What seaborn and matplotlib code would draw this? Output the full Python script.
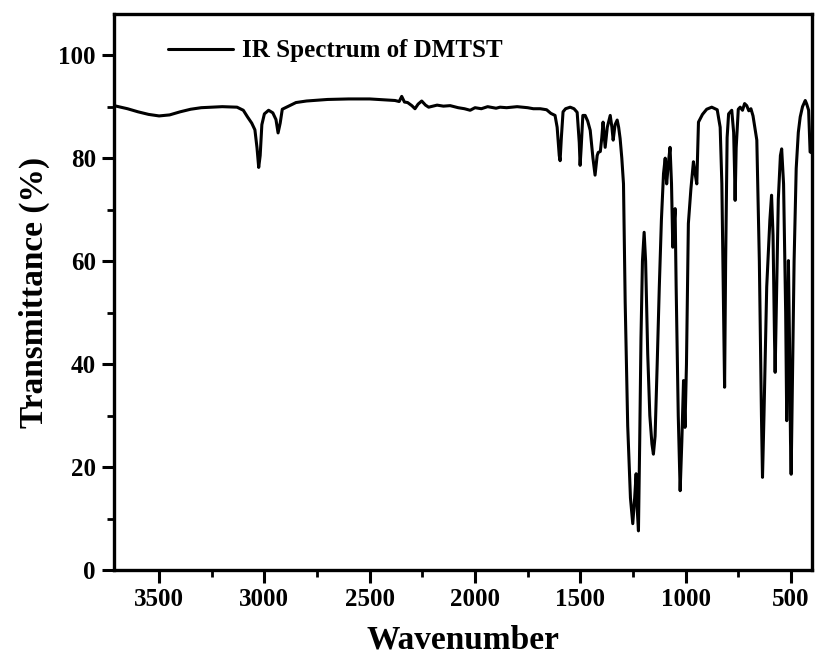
import matplotlib
matplotlib.use("Agg")
import matplotlib.pyplot as plt
import seaborn as sns
import pandas as pd
from matplotlib.ticker import MultipleLocator

wavenumber = [
    3714, 3650, 3600, 3550, 3500, 3450, 3400, 3350, 3300, 3200, 3130, 3100,
    3080, 3060, 3045, 3035, 3027, 3020, 3012, 3000, 2980, 2960, 2945, 2935,
    2925, 2915, 2890, 2850, 2800, 2700, 2600, 2500, 2420, 2380, 2360, 2348,
    2335, 2320, 2300, 2285, 2270, 2253, 2235, 2220, 2180, 2150, 2118, 2080,
    2050, 2023, 2000, 1970, 1940, 1900, 1881, 1850, 1800, 1750, 1723, 1690,
    1660, 1640, 1620, 1610, 1600, 1596, 1590, 1582, 1570, 1548, 1530, 1515,
    1505, 1501, 1496, 1488, 1477, 1465, 1453, 1440, 1430, 1420, 1415, 1405,
    1398, 1392, 1386, 1382, 1372, 1358, 1350, 1344, 1335, 1325, 1318, 1311,
    1303, 1295, 1287, 1275, 1262, 1251, 1242, 1235, 1230, 1224, 1218, 1212,
    1205, 1197, 1190, 1180, 1170, 1160, 1153, 1145, 1135, 1125, 1115, 1105,
    1097, 1090, 1082, 1074, 1067, 1061, 1055, 1050, 1045, 1035, 1026, 1018,
    1010, 1003, 996, 987, 975, 963, 955, 947, 939, 920, 900, 876, 850, 836,
    828, 820, 815, 810, 803, 796, 781, 772, 768, 765, 760, 750, 741, 730,
    720, 710, 700, 690, 680, 662, 650, 640, 635, 628, 615, 600, 592, 585,
    578, 575, 570, 560, 550, 544, 535, 525, 520, 515, 512, 507, 502, 499,
    495, 485, 475, 465, 456, 445, 432, 425, 416, 409, 400,
]
transmittance = [
    90.2, 89.6, 89.0, 88.5, 88.2, 88.4, 89.0, 89.5, 89.8, 90.0, 89.9, 89.3,
    88.0, 86.8, 85.5, 82.0, 78.2, 80.5, 86.5, 88.6, 89.3, 88.8, 87.5, 84.9,
    86.8, 89.5, 90.0, 90.8, 91.1, 91.4, 91.5, 91.5, 91.3, 91.2, 91.0, 92.0,
    90.9, 90.8, 90.2, 89.6, 90.5, 91.1, 90.3, 89.9, 90.3, 90.1, 90.2, 89.8,
    89.6, 89.3, 89.8, 89.6, 90.0, 89.7, 89.9, 89.8, 90.0, 89.8, 89.6, 89.6,
    89.4, 88.7, 88.3, 86.0, 80.5, 79.5, 84.0, 89.0, 89.6, 89.9, 89.6, 88.9,
    83.0, 78.6, 82.0, 88.3, 88.3, 87.2, 85.4, 80.0, 76.7, 80.5, 81.1, 81.3,
    84.0, 87.0, 84.0, 82.1, 86.0, 88.3, 86.0, 83.5, 86.5, 87.4, 86.0, 83.8,
    80.0, 75.0, 52.0, 28.0, 14.0, 9.0, 14.0, 18.7, 12.0, 7.6, 25.0, 45.0,
    60.0, 65.6, 60.0, 42.0, 30.0, 24.5, 22.5, 26.0, 40.0, 55.0, 68.0, 77.0,
    80.0, 75.0, 79.0, 82.1, 75.0, 62.7, 67.0, 70.2, 55.0, 30.0, 15.4, 25.0,
    36.8, 27.7, 40.0, 67.3, 74.0, 79.3, 77.0, 75.0, 87.0, 88.5, 89.5, 89.9,
    89.4, 86.0, 75.0, 50.0, 35.5, 60.0, 84.0, 88.6, 89.3, 85.0, 78.0, 71.8,
    82.0, 89.5, 89.9, 89.3, 90.6, 90.2, 89.2, 89.6, 88.2, 83.5, 60.0, 30.0,
    18.0, 30.0, 55.0, 68.0, 72.8, 65.0, 45.0, 38.4, 50.0, 72.0, 80.5, 81.8,
    75.0, 50.0, 29.0, 45.0, 60.1, 45.0, 25.0, 18.6, 30.0, 60.0, 78.0, 85.0,
    88.0, 90.0, 91.2, 90.5, 89.3, 81.2, 81.0,
]
series_label = "IR Spectrum of DMTST"
x_ticks = [3500, 3000, 2500, 2000, 1500, 1000, 500]
y_ticks = [0, 20, 40, 60, 80, 100]

df = pd.DataFrame({"Wavenumber": wavenumber, "Transmittance": transmittance})

sns.set_style("white")
plt.rcParams["font.family"] = ["Liberation Serif", "DejaVu Serif"]
plt.rcParams["font.weight"] = "bold"
for key in ["text.color", "axes.labelcolor", "xtick.color", "ytick.color"]:
    plt.rcParams[key] = "black"

fig = plt.figure(figsize=(8.16, 6.63), dpi=100)
ax = fig.add_axes([114 / 816, 1 - 570 / 663, (812 - 114) / 816, (570 - 14) / 663])

sns.lineplot(data=df, x="Wavenumber", y="Transmittance", ax=ax, color="black",
             linewidth=2.2, label=series_label, sort=False, estimator=None)

ax.set_xlim(3714, 400)
ax.set_ylim(0, 108)
ax.set_xticks(x_ticks)
ax.set_yticks(y_ticks)
ax.xaxis.set_minor_locator(MultipleLocator(250))
ax.yaxis.set_minor_locator(MultipleLocator(10))
ax.tick_params(axis="both", which="major", direction="out", length=9, width=2.2,
               labelsize=18, bottom=True, left=True, pad=4, colors="black")
ax.tick_params(axis="both", which="minor", direction="out", length=5, width=2.0,
               bottom=True, left=True, colors="black")
for lab in ax.get_xticklabels() + ax.get_yticklabels():
    lab.set_fontweight("bold")
for sp in ax.spines.values():
    sp.set_linewidth(2.4)
    sp.set_color("black")

ax.set_xlabel("Wavenumber", fontsize=24, fontweight="bold", labelpad=10,
              color="black")
ax.set_ylabel("Transmittance (%)", fontsize=24, fontweight="bold", labelpad=6,
              color="black")

leg = ax.legend(loc="upper left", bbox_to_anchor=(0.045, 0.995), frameon=False,
                prop={"size": 18, "weight": "bold"}, handlelength=2.6,
                handletextpad=0.35)
for t in leg.get_texts():
    t.set_color("black")

fig.savefig("out.png", dpi=100)
